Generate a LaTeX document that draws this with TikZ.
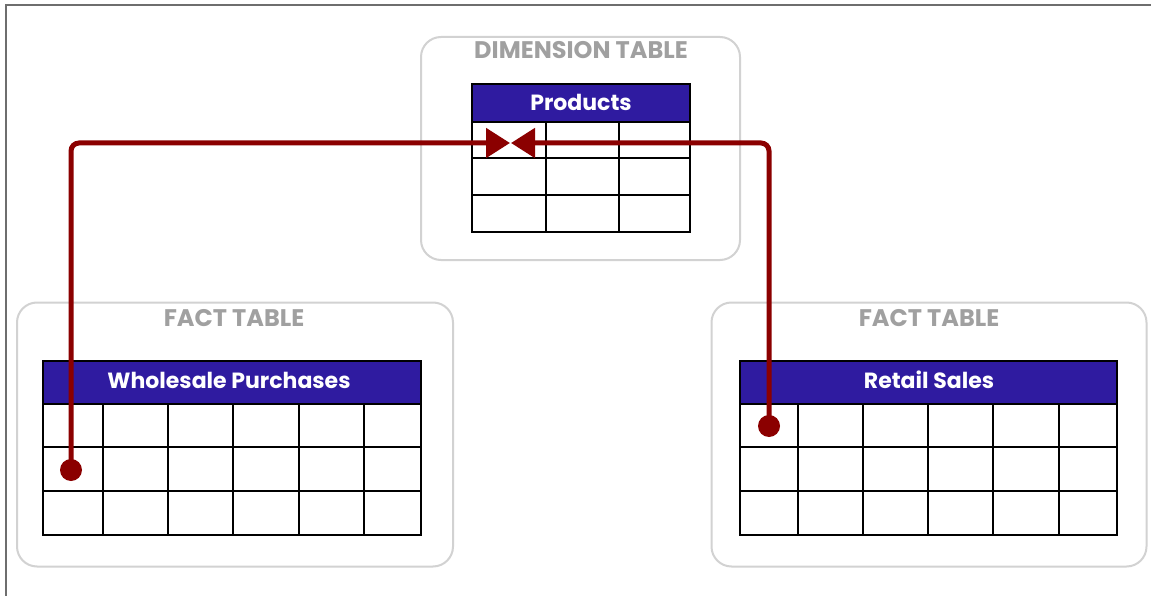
\documentclass[tikz,border=0pt]{standalone}
\usepackage{fontspec}
\setmainfont{Poppins}
\usetikzlibrary{arrows.meta}
\definecolor{hdrblue}{HTML}{2F1BA0}
\definecolor{linkred}{HTML}{8B0000}
\definecolor{boxgray}{HTML}{D2D2D2}
\definecolor{lblgray}{HTML}{A0A0A0}
\definecolor{framegray}{HTML}{6E6E6E}
\tikzset{
  groupbox/.style={draw=boxgray, line width=2pt, rounded corners=20pt, fill=white},
  grouplabel/.style={font=\bfseries\fontsize{24}{24}\selectfont, text=lblgray, anchor=base, inner sep=0pt},
  header/.style={draw=black, line width=1.8pt, fill=hdrblue, inner sep=0pt},
  headertext/.style={font=\bfseries\fontsize{22}{22}\selectfont, text=white, anchor=base, inner sep=0pt},
  grid/.style={draw=black, line width=1.8pt},
  link/.style={draw=linkred, line width=5pt, rounded corners=8pt},
  linktip/.style={-{Triangle[length=24pt,width=29pt]}},
  linkdot/.style={circle, fill=linkred, minimum size=22pt, inner sep=0pt},
}
\begin{document}
\begin{tikzpicture}[x=1pt,y=-1pt]
\useasboundingbox (0,0) rectangle (1151,596);
\fill[white] (0,0) rectangle (1151,596);
% frame lines at top and left
\draw[framegray, line width=2pt] (6,596) -- (6,5) -- (1151,5);

% group boxes
\node[groupbox, minimum width=319pt, minimum height=223pt, inner sep=0pt] (dimbox) at (580.5,148.5) {};
\node[groupbox, minimum width=436pt, minimum height=264pt, inner sep=0pt] (factL) at (235,434.5) {};
\node[groupbox, minimum width=435pt, minimum height=264pt, inner sep=0pt] (factR) at (929,434.5) {};

\node[grouplabel] (dimlbl) at (581,58.5) {DIMENSION TABLE};
\node[grouplabel] (factLlbl) at (234,326) {FACT TABLE};
\node[grouplabel] (factRlbl) at (929,326) {FACT TABLE};

% Products table
\draw[grid] (472,122) rectangle (690,232);
\foreach \y in {158,195} \draw[grid] (472,\y) -- (690,\y);
\foreach \x in {546,619} \draw[grid] (\x,122) -- (\x,232);
\node[header, minimum width=218pt, minimum height=38pt] (prodhdr) at (581,103) {};
\node[headertext] (prodtxt) at (581,110.5) {Products};

% Wholesale Purchases table
\draw[grid] (43,404) rectangle (421,535);
\foreach \y in {447,491} \draw[grid] (43,\y) -- (421,\y);
\foreach \x in {103,168,233,299,364} \draw[grid] (\x,404) -- (\x,535);
\node[header, minimum width=378pt, minimum height=43pt] (whdr) at (232,382.5) {};
\node[headertext] (wtxt) at (229,388.5) {Wholesale Purchases};

% Retail Sales table
\draw[grid] (740,404) rectangle (1117,535);
\foreach \y in {447,491} \draw[grid] (740,\y) -- (1117,\y);
\foreach \x in {798,863,928,993,1059} \draw[grid] (\x,404) -- (\x,535);
\node[header, minimum width=377pt, minimum height=43pt] (rhdr) at (928.5,382.5) {};
\node[headertext] (rtxt) at (929,388.5) {Retail Sales};

% connectors
\node[linkdot] (dotL) at (71,470) {};
\node[linkdot] (dotR) at (769,426) {};
\coordinate (tipL) at (510,143);
\coordinate (tipR) at (511,143);
\draw[link, linktip] (dotL.center) -- (71,143) -- (tipL);
\draw[link, linktip] (dotR.center) -- (769,143) -- (tipR);
\end{tikzpicture}
\end{document}
